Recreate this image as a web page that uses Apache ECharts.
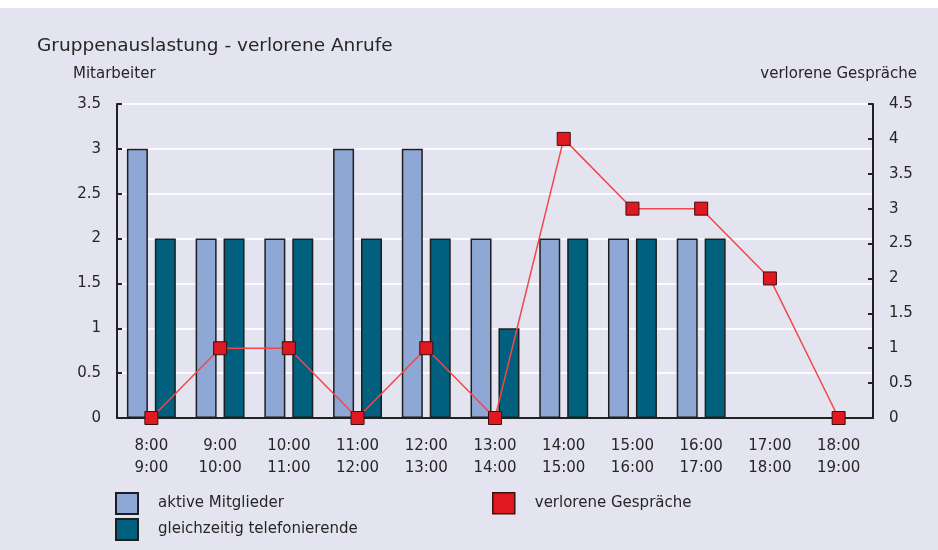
<!DOCTYPE html>
<html>
<head>
<meta charset="utf-8">
<script src="https://cdn.jsdelivr.net/npm/echarts@6/dist/echarts.min.js"></script>
<style>
  html, body { margin: 0; padding: 0; background: #fff; }
  #chart { width: 938px; height: 550px; }
</style>
</head>
<body>
<div id="chart"></div>
<script>
const categories = [
  '8:00\n9:00', '9:00\n10:00', '10:00\n11:00', '11:00\n12:00', '12:00\n13:00',
  '13:00\n14:00', '14:00\n15:00', '15:00\n16:00', '16:00\n17:00', '17:00\n18:00',
  '18:00\n19:00',
]
const aktiveMitglieder = [3, 2, 2, 3, 3, 2, 2, 2, 2, null, null]
const telefonierende = [2, 2, 2, 2, 2, 1, 2, 2, 2, null, null]
const verloreneGespraeche = [0, 1, 1, 0, 1, 0, 4, 3, 3, 2, 0]

const font = 'DejaVu Sans, sans-serif'
const textColor = '#262626'
const axisColor = '#222'

const legendText = { fontSize: 15, color: textColor, fontFamily: font, padding: [0, 0, 0, 15] }

const chart = echarts.init(document.getElementById('chart'))

chart.setOption({
  backgroundColor: '#e4e4f0',
  animation: false,
  textStyle: { fontFamily: font, color: textColor },
  graphic: [
    { type: 'rect', left: 0, top: 0, shape: { width: 938, height: 8 }, style: { fill: '#fff' }, z: -1 },
  ],
  title: {
    text: 'Gruppenauslastung - verlorene Anrufe',
    left: 32, top: 32,
    textStyle: { fontSize: 18.5, fontWeight: 'normal', color: textColor, fontFamily: font },
  },
  legend: [
    {
      left: 110, top: 487,
      itemWidth: 22, itemHeight: 21,
      textStyle: legendText,
      data: [{ name: 'aktive Mitglieder', icon: 'rect' }],
      selectedMode: false,
    },
    {
      left: 110, top: 513,
      itemWidth: 22, itemHeight: 21,
      textStyle: legendText,
      data: [{ name: 'gleichzeitig telefonierende', icon: 'rect' }],
      selectedMode: false,
    },
    {
      left: 487, top: 487,
      itemWidth: 22, itemHeight: 21,
      textStyle: legendText,
      data: [{
        name: 'verlorene Gespräche', icon: 'rect',
        itemStyle: { color: '#e01820', borderColor: '#3a1010', borderWidth: 1.5 },
      }],
      selectedMode: false,
    },
  ],
  grid: { left: 117, right: 65, top: 104, bottom: 132 },
  xAxis: {
    type: 'category',
    data: categories,
    boundaryGap: true,
    axisLine: { lineStyle: { color: axisColor, width: 2 } },
    axisTick: { alignWithLabel: true, length: 5, lineStyle: { color: axisColor, width: 2 } },
    axisLabel: { fontSize: 15, lineHeight: 22, margin: 17, color: textColor, interval: 0 },
  },
  yAxis: [
    {
      type: 'value',
      min: 0, max: 3.5, interval: 0.5,
      name: 'Mitarbeiter',
      nameLocation: 'end',
      nameGap: 22,
      nameTextStyle: { fontSize: 15, color: textColor, align: 'left', padding: [0, 0, 0, -44] },
      axisLine: { show: true, lineStyle: { color: axisColor, width: 2 } },
      axisTick: { show: true, inside: true, length: 5, lineStyle: { color: axisColor, width: 2 } },
      axisLabel: { fontSize: 15, margin: 16, color: textColor },
      splitLine: { show: true, lineStyle: { color: '#fafaff', width: 2 } },
    },
    {
      type: 'value',
      position: 'right',
      min: 0, max: 4.5, interval: 0.5,
      name: 'verlorene Gespräche',
      nameLocation: 'end',
      nameGap: 22,
      nameTextStyle: { fontSize: 15, color: textColor, align: 'right', padding: [0, -44, 0, 0] },
      axisLine: { show: true, lineStyle: { color: axisColor, width: 2 } },
      axisTick: { show: true, inside: true, length: 5, lineStyle: { color: axisColor, width: 2 } },
      axisLabel: { fontSize: 15, margin: 16, color: textColor },
      splitLine: { show: false },
    },
  ],
  series: [
    {
      name: 'aktive Mitglieder',
      type: 'bar',
      data: aktiveMitglieder,
      barWidth: 21,
      barGap: '33%',
      itemStyle: { color: '#8fa7d5', borderColor: '#1e1e1e', borderWidth: 1.5 },
    },
    {
      name: 'gleichzeitig telefonierende',
      type: 'bar',
      data: telefonierende,
      barWidth: 21,
      itemStyle: { color: '#00607e', borderColor: '#1e1e1e', borderWidth: 1.5 },
    },
    {
      name: 'verlorene Gespräche',
      type: 'line',
      yAxisIndex: 1,
      data: verloreneGespraeche,
      symbol: 'rect',
      symbolSize: 13,
      z: 5,
      lineStyle: { color: '#f04848', width: 1.5 },
      itemStyle: { color: '#e01820', borderColor: '#3a1010', borderWidth: 1 },
    },
  ],
})
</script>
</body>
</html>
